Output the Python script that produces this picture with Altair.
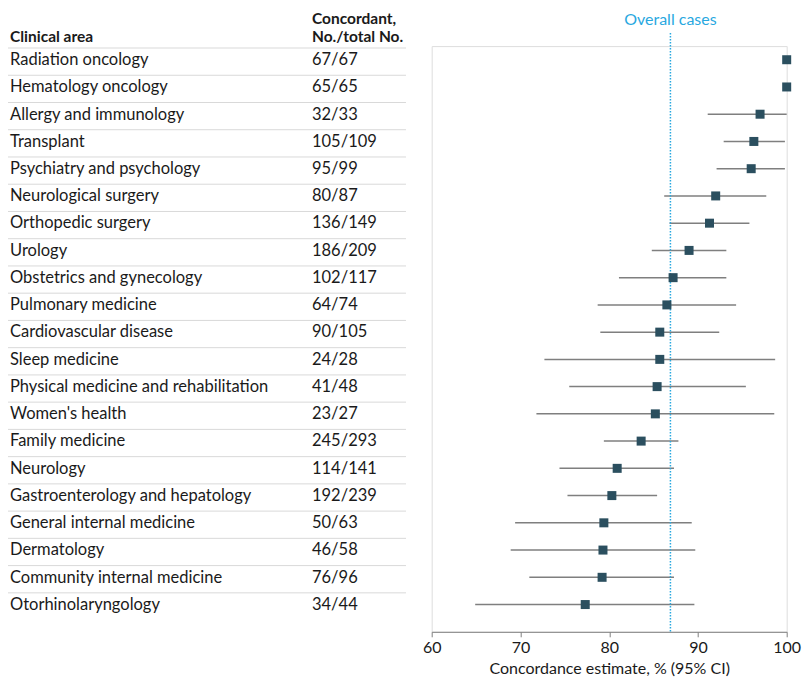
import altair as alt
import pandas as pd

areas = [
    "Radiation oncology", "Hematology oncology", "Allergy and immunology", "Transplant",
    "Psychiatry and psychology", "Neurological surgery", "Orthopedic surgery", "Urology",
    "Obstetrics and gynecology", "Pulmonary medicine", "Cardiovascular disease",
    "Sleep medicine", "Physical medicine and rehabilitation", "Women's health",
    "Family medicine", "Neurology", "Gastroenterology and hepatology",
    "General internal medicine", "Dermatology", "Community internal medicine",
    "Otorhinolaryngology",
]
concordant = [
    "67/67", "65/65", "32/33", "105/109", "95/99", "80/87", "136/149", "186/209",
    "102/117", "64/74", "90/105", "24/28", "41/48", "23/27", "245/293", "114/141",
    "192/239", "50/63", "46/58", "76/96", "34/44",
]
estimate = [100.0, 100.0, 97.0, 96.3, 96.0, 92.0, 91.3, 89.0, 87.2, 86.5, 85.7,
            85.7, 85.4, 85.2, 83.6, 80.9, 80.3, 79.4, 79.3, 79.2, 77.3]
ci_low = [None, None, 91.1, 92.9, 92.1, 86.2, 86.8, 84.8, 81.1, 78.7, 79.0,
          72.7, 75.5, 71.8, 79.4, 74.4, 75.3, 69.4, 68.9, 71.0, 64.9]
ci_high = [None, None, 100.0, 99.8, 99.8, 97.7, 95.8, 93.2, 93.2, 94.3, 92.4,
           98.7, 95.4, 98.6, 87.8, 87.3, 85.4, 89.3, 89.7, 87.3, 89.6]
overall = 86.9

df = pd.DataFrame({
    "row": list(range(len(areas))),
    "area": areas,
    "conc": concordant,
    "est": estimate,
    "lo": ci_low,
    "hi": ci_high,
})
sep_df = pd.DataFrame({"sep": [i + 0.57 for i in range(-1, len(areas) - 1)]})
overall_df = pd.DataFrame({"overall": [overall], "label": ["Overall cases"]})

FONT = "Lato"
FS = 16.5
TEXT_COLOR = "#1a1a1a"
PL = 423.7   # left padding -> plot area starts at page x 431.7
PT = 38.1    # top padding  -> plot area starts at page y 46.1
W = 355
H = 585.7
yscale = alt.Scale(domain=[-0.5, 21.0], reverse=True, nice=False, zero=False)
xscale = alt.Scale(domain=[60, 100], nice=False, zero=False)

base = alt.Chart(df)

seps = alt.Chart(sep_df).mark_rule(color="#d9d9d9", strokeWidth=1).encode(
    y=alt.Y("sep:Q", scale=yscale, axis=None),
    x=alt.value(-PL),
    x2=alt.value(-25.7),
)

area_text = base.mark_text(align="left", baseline="alphabetic", dy=5.3,
                           fontSize=FS, font=FONT, color=TEXT_COLOR).encode(
    y=alt.Y("row:Q", scale=yscale, axis=None),
    x=alt.value(-PL + 2),
    text="area:N",
)
conc_text = base.mark_text(align="left", baseline="alphabetic", dy=5.3,
                           fontSize=FS, font=FONT, color=TEXT_COLOR).encode(
    y=alt.Y("row:Q", scale=yscale, axis=None),
    x=alt.value(-119.7),
    text="conc:N",
)

hdr_df = pd.DataFrame({
    "t": ["Clinical area", "Concordant,", "No./total No."],
    "px": [-PL + 2, -119.7, -119.7],
    "py": [-3.8, -22.6, -3.8],
})
headers = alt.Chart(hdr_df).mark_text(align="left", baseline="alphabetic",
                                      fontSize=15.5, font=FONT, fontWeight="bold",
                                      color=TEXT_COLOR).encode(
    x=alt.X("px:Q", scale=None),
    y=alt.Y("py:Q", scale=None),
    text="t:N",
)

ci = base.transform_filter("isValid(datum.lo)").mark_rule(
    color="#7f7f7f", strokeWidth=1.5).encode(
    x=alt.X("lo:Q", scale=xscale),
    x2="hi:Q",
    y=alt.Y("row:Q", scale=yscale),
)

pts = base.mark_square(size=81, color="#2b4f5f", opacity=1, filled=True).encode(
    x=alt.X("est:Q", scale=xscale,
            axis=alt.Axis(values=[60, 70, 80, 90, 100], grid=False, labelFlush=False,
                          title="Concordance estimate, % (95% CI)",
                          tickSize=5, labelFontSize=16, titleFontSize=16,
                          titleFontWeight="normal", labelFont=FONT, titleFont=FONT,
                          labelColor=TEXT_COLOR, titleColor=TEXT_COLOR,
                          domainColor="#808080", tickColor="#808080",
                          titlePadding=5, labelPadding=3)),
    y=alt.Y("row:Q", scale=yscale,
            axis=alt.Axis(labels=False, ticks=False, title=None, grid=False,
                          domainColor="#808080")),
)

ov_line = alt.Chart(overall_df).mark_rule(color="#29a8df", strokeWidth=1.5,
                                          strokeDash=[1.5, 1.5]).encode(
    x=alt.X("overall:Q", scale=xscale),
    y=alt.value(-13),
    y2=alt.value(H),
)
ov_text = alt.Chart(overall_df).mark_text(align="center", baseline="alphabetic",
                                          fontSize=16, font=FONT, color="#29a8df").encode(
    x=alt.X("overall:Q", scale=xscale),
    y=alt.value(-21.1),
    text="label:N",
)

chart = alt.layer(seps, area_text, conc_text, headers, ci, ov_line, pts, ov_text).properties(
    width=W, height=H,
    autosize=alt.AutoSizeParams(type="none"),
    padding={"left": PL, "top": PT, "right": 15, "bottom": 49},
).configure_view(stroke=None).configure(background="white")

chart.save("out.html", embed_options={"renderer": "svg", "actions": False})
